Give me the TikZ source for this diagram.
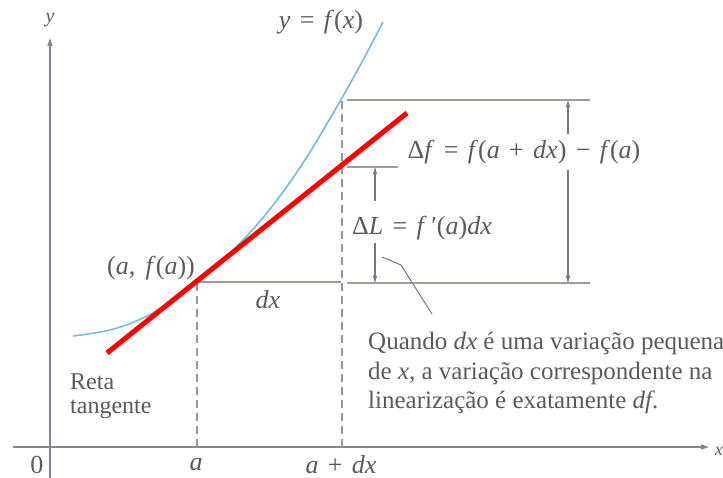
\documentclass[tikz,border=0pt]{standalone}
\usepackage{fontspec}
\setmainfont{Liberation Serif}
\usetikzlibrary{arrows.meta}
\definecolor{axisc}{RGB}{140,132,150}
\definecolor{guidec}{RGB}{150,162,145}
\definecolor{dashc}{RGB}{150,150,155}
\definecolor{curvec}{RGB}{120,185,225}
\definecolor{tanc}{RGB}{255,0,0}
\definecolor{txt}{RGB}{90,90,90}
\definecolor{dimc}{RGB}{120,120,120}
\newcommand{\mi}[1]{\textit{#1}}
\newcommand{\sop}[1]{\hspace{0.36em}#1\hspace{0.36em}}
\begin{document}
\begin{tikzpicture}[x=1pt,y=-1pt,
  lbl/.style={text=txt, font=\fontsize{24}{30}\selectfont, inner sep=0pt},
  mlbl/.style={lbl, font=\fontsize{26}{30}\selectfont},
  axisline/.style={draw=axisc, line width=1.5pt, -{Triangle[length=8pt,width=5pt]}},
  guide/.style={draw=guidec, line width=2pt},
  dashv/.style={draw=dashc, line width=1.3pt, dash pattern=on 8pt off 5pt},
  dimline/.style={draw=dimc, line width=1.2pt},
  dimtip/.style={dimline, -{Stealth[length=8pt,width=4.5pt]}},
  curvestyle/.style={draw=curvec, line width=1.6pt},
  tanstyle/.style={draw=tanc, line width=5pt},
  leader/.style={draw=dimc, line width=1pt}]
\useasboundingbox (0,0) rectangle (723,478);

% axes
\coordinate (xs) at (13,447);
\coordinate (xe) at (709,447);
\coordinate (ys) at (50,478);
\coordinate (ye) at (50,38);
\draw[axisline] (xs) -- (xe);
\draw[axisline] (ys) -- (ye);
\node[lbl, font=\fontsize{20}{24}\selectfont\itshape] (ylab) at (50,20) {y};
\node[lbl, anchor=east, font=\fontsize{18}{24}\selectfont\itshape] (xlab) at (723,451) {x};

% key points
\coordinate (A) at (197,282);
\coordinate (B) at (342,98);
\coordinate (Abase) at (197,447);
\coordinate (Bbase) at (342,447);

% dashed verticals
\draw[dashv] (Abase) -- (A);
\draw[dashv] (Bbase) -- (B);

% horizontal guides
\coordinate (dxend) at (341,282);
\coordinate (lowL) at (347,283);
\coordinate (lowR) at (590,283);
\coordinate (topL) at (347,100);
\coordinate (topR) at (590,100);
\coordinate (midL) at (347,167);
\coordinate (midR) at (398,167);
\draw[guide] (A) -- (dxend);
\draw[guide] (lowL) -- (lowR);
\draw[guide] (topL) -- (topR);
\draw[guide] (midL) -- (midR);

% curve
\draw[curvestyle] plot[smooth, tension=0.6] coordinates {(73,336) (110,330) (143,318) (170,302) (197,282) (225,258) (255,227) (280,196) (305,160) (325,127) (342,98) (362,62) (383,22)};

% tangent line
\coordinate (t1) at (107,353);
\coordinate (t2) at (407,113);
\draw[tanstyle] (t1) -- (t2);

% Delta f dimension
\coordinate (dfTop) at (568,100);
\coordinate (dfBot) at (568,283);
\coordinate (dfA) at (568,134);
\coordinate (dfB) at (568,170);
\draw[dimtip] (dfA) -- (dfTop);
\draw[dimtip] (dfB) -- (dfBot);
\node[mlbl] (dflab) at (524,152) {Δ\mi{f}\sop{=}\mi{f}(\mi{a}\sop{+}\mi{dx})\sop{−}\mi{f}(\mi{a})};

% Delta L dimension
\coordinate (dLTop) at (375,167);
\coordinate (dLBot) at (375,283);
\coordinate (dLA) at (375,201);
\coordinate (dLB) at (375,243);
\draw[dimtip] (dLA) -- (dLTop);
\draw[dimtip] (dLB) -- (dLBot);
\node[mlbl] (dLlab) at (422,228) {Δ\mi{L}\sop{=}\mi{f}\,′(\mi{a})\mi{dx}};

% leader
\coordinate (l1) at (382,257);
\coordinate (l2) at (401,265);
\coordinate (l3) at (432,314);
\draw[leader] (l1) -- (l2) -- (l3);

% labels
\node[mlbl] (fx) at (321,22) {\mi{y}\sop{=}\mi{f}(\mi{x})};
\node[mlbl] (pa) at (151,268) {(\mi{a},\hspace{0.4em}\mi{f}(\mi{a}))};
\node[mlbl] (dx) at (268,300) {\mi{dx}};
\node[lbl, anchor=west, align=left, font=\fontsize{24}{24}\selectfont] (reta) at (70,396) {Reta\\tangente};
\node[mlbl] (zero) at (37,465) {0};
\node[mlbl] (alab) at (196,465) {\mi{a}};
\node[mlbl] (adx) at (341,465) {\mi{a}\sop{+}\mi{dx}};
\node[lbl, anchor=west, align=left, font=\fontsize{25}{29.5}\selectfont] (quando) at (368,373) {Quando \mi{dx} é uma variação pequena\\de \mi{x}, a variação correspondente na\\linearização é exatamente \mi{df}.};
\end{tikzpicture}
\end{document}
